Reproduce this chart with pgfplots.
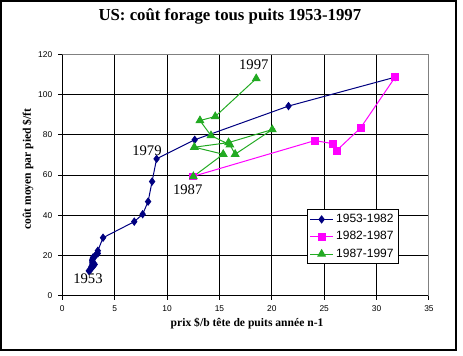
\documentclass[border=0pt]{standalone}
\usepackage{fontspec}
\setmainfont{Liberation Sans}
\newfontfamily\serif{Liberation Serif}
\usepackage{pgfplots}
\pgfplotsset{compat=1.18}
\definecolor{navyb}{RGB}{0,0,128}
\definecolor{mag}{RGB}{255,0,255}
\definecolor{grn}{RGB}{34,170,34}
\definecolor{bord}{RGB}{128,128,128}
\begin{document}
\begin{tikzpicture}
\useasboundingbox (0,0) rectangle (347.25pt,266.25pt);
\draw[line width=1pt] (0.75pt,3.75pt) rectangle (342pt,265.5pt);
\begin{axis}[
  at={(46.725pt,44.625pt)}, anchor=south west,
  scale only axis, width=275pt, height=180.6pt,
  xmin=0, xmax=35, ymin=0, ymax=120,
  xtick={0,5,...,35}, ytick={0,20,...,120},
  axis x line*=bottom, axis y line*=left,
  axis line style={black, line width=0.75pt, -},
  tick align=outside, major tick length=3pt,
  tick style={black, line width=0.75pt},
  grid=major, major grid style={black, line width=0.75pt},
  /pgf/number format/assume math mode=true,
  ticklabel style={font=\fontsize{6.3}{7}\selectfont},
  xticklabel style={yshift=-1pt},
  yticklabel style={xshift=-1pt},
  title={\serif\bfseries US: coût forage tous puits 1953-1997},
  title style={at={(axis description cs:0.457,1.1096)}, anchor=base, font=\fontsize{12.6}{14}\selectfont},
  xlabel={\serif\bfseries prix \$/b tête de puits année n-1},
  xlabel style={at={(axis description cs:0.504,-0.1267)}, anchor=base, font=\fontsize{8.7}{10}\selectfont},
  ylabel={\serif\bfseries coût moyen par pied \$/ft},
  ylabel style={at={(axis description cs:-0.0935,0.525)}, anchor=center, font=\fontsize{8.7}{10}\selectfont},
  legend style={at={(axis description cs:0.668,0.359)}, anchor=north west, draw=black, line width=0.75pt, fill=white,
    font=\fontsize{9}{10}\selectfont, row sep=1.2pt, inner sep=1.5pt},
  legend cell align=left,
]
\addplot[navyb, line width=0.75pt, mark=diamond*, mark size=2.6pt, mark options={solid, fill=navyb}] coordinates {
(2.53,12.3) (2.68,12.9) (2.78,13.5) (2.77,14.0) (2.79,14.5) (3.09,15.5) (3.01,15.0) (2.90,14.8)
(2.88,15.3) (2.89,16.0) (2.90,16.3) (2.89,16.5) (2.88,17.0) (2.86,17.5) (2.88,18.0) (2.92,18.5)
(2.94,19.0) (3.09,19.5) (3.18,20.0) (3.39,21.0) (3.39,22.3) (3.89,28.8) (6.87,36.8) (7.67,40.5)
(8.19,46.8) (8.57,56.8) (9.00,68.1) (12.64,77.6) (21.59,94.4) (31.77,108.8)
};
\addlegendentry{1953-1982}
\addplot[mag, line width=0.75pt, mark=square*, mark size=2.6pt, mark options={solid, fill=mag}] coordinates {
(31.77,108.8) (28.47,83.5) (26.18,72.2) (25.80,75.7) (24.10,77.2) (12.44,59.3)
};
\addlegendentry{1982-1987}
\addplot[grn, line width=0.75pt, mark=triangle*, mark size=3.2pt, mark options={solid, fill=grn}] coordinates {
(12.51,59.3) (15.36,70.4) (12.60,73.9) (15.87,76.2) (20.04,82.7) (16.50,70.4) (16.00,75.1)
(14.19,79.7) (13.14,87.2) (14.60,89.2) (18.51,108.1)
};
\addlegendentry{1987-1997}
\node[font=\serif\fontsize{11}{12}\selectfont] at (axis cs:8.08,72.2) {1979};
\node[font=\serif\fontsize{11}{12}\selectfont] at (axis cs:2.45,8.2) {1953};
\node[font=\serif\fontsize{11}{12}\selectfont] at (axis cs:11.97,52.9) {1987};
\node[font=\serif\fontsize{11}{12}\selectfont] at (axis cs:18.28,114.9) {1997};
\draw[bord, line width=0.75pt] (rel axis cs:0,1) -- (rel axis cs:1,1) -- (rel axis cs:1,0);
\end{axis}
\end{tikzpicture}
\end{document}
